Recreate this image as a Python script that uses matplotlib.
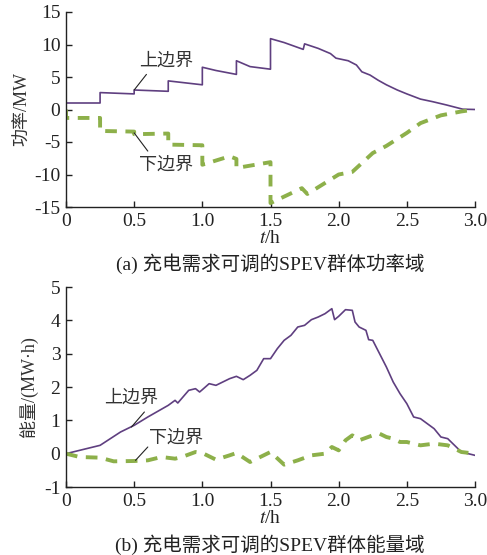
import matplotlib
matplotlib.use("Agg")
import matplotlib.pyplot as plt

plt.rcParams['font.family'] = ['Liberation Serif', 'Noto Sans CJK SC']
plt.rcParams['mathtext.fontset'] = 'stix'
plt.rcParams['axes.unicode_minus'] = False

# (a) power domain
t_pu = [0, 0, 0.25, 0.25, 0.5, 0.5, 0.75, 0.75, 1.0, 1.0, 1.1, 1.25, 1.25, 1.35, 1.5, 1.5, 1.6, 1.74, 1.75,
        1.85, 1.94, 1.98, 2.07, 2.13, 2.17, 2.23, 2.29, 2.35, 2.43, 2.5, 2.6, 2.69, 2.79, 2.91, 3.0]
p_up = [0, 1.0, 1.0, 2.6, 2.4, 3.0, 2.8, 4.4, 3.8, 6.5, 6.0, 5.4, 7.5, 6.6, 6.2, 10.9, 10.3, 9.25, 10.1,
        9.4, 8.6, 7.9, 7.5, 6.85, 5.8, 5.3, 4.5, 3.8, 3.0, 2.4, 1.6, 1.2, 0.7, 0.05, 0.0]
t_pl = [0, 0, 0.25, 0.25, 0.5, 0.5, 0.75, 0.75, 1.0, 1.0, 1.2, 1.25, 1.25, 1.5, 1.5, 1.73, 1.77,
        2.0, 2.1, 2.25, 2.35, 2.5, 2.6, 2.75, 2.9, 3.0]
p_lo = [0, -1.3, -1.3, -3.3, -3.4, -3.8, -3.7, -5.4, -5.5, -8.5, -7.2, -7.6, -9.0, -8.1, -14.4, -12.1, -13.0,
        -10.0, -9.6, -6.7, -5.6, -3.6, -2.1, -0.9, -0.3, 0.0]

# (b) energy domain
t_eu = [0, 0.25, 0.4, 0.5, 0.6, 0.75, 0.8, 0.82, 0.9, 0.95, 0.98, 1.0, 1.05, 1.1, 1.2, 1.25, 1.3, 1.35, 1.4,
        1.45, 1.5, 1.55, 1.6, 1.65, 1.7, 1.75, 1.8, 1.85, 1.9, 1.95, 1.97, 2.0, 2.05, 2.1, 2.12, 2.15, 2.2,
        2.22, 2.25, 2.3, 2.35, 2.4, 2.45, 2.5, 2.55, 2.6, 2.65, 2.7, 2.75, 2.8, 2.85, 2.9, 2.95, 3.0]
e_up = [0, 0.25, 0.65, 0.85, 1.1, 1.45, 1.6, 1.52, 1.9, 1.95, 1.85, 1.92, 2.1, 2.05, 2.25, 2.32, 2.22, 2.35, 2.5,
        2.85, 2.85, 3.15, 3.4, 3.55, 3.8, 3.85, 4.02, 4.1, 4.2, 4.35, 4.02, 4.12, 4.32, 4.3, 3.95, 3.8, 3.7,
        3.42, 3.4, 3.0, 2.6, 2.15, 1.8, 1.5, 1.1, 1.05, 0.9, 0.75, 0.5, 0.45, 0.25, 0.05, 0.0, -0.05]
t_el = [0, 0.1, 0.25, 0.35, 0.5, 0.6, 0.7, 0.8, 0.85, 0.95, 1.0, 1.1, 1.2, 1.25, 1.35, 1.45, 1.5, 1.6, 1.7,
        1.8, 1.9, 1.95, 2.0, 2.05, 2.1, 2.15, 2.25, 2.3, 2.35, 2.4, 2.45, 2.5, 2.6, 2.7, 2.8, 2.9, 3.0]
e_lo = [0, -0.1, -0.12, -0.23, -0.22, -0.2, -0.1, -0.15, -0.1, 0.05, 0.02, -0.18, -0.05, 0.02, -0.25, -0.05,
        0.05, -0.33, -0.2, -0.05, 0.0, 0.2, 0.1, 0.4, 0.55, 0.4, 0.55, 0.6, 0.5, 0.45, 0.35, 0.35, 0.25, 0.3,
        0.25, 0.05, 0.0]

xticks = [0, 0.5, 1.0, 1.5, 2.0, 2.5, 3.0]
xtick_labels = ['0', '0.5', '1.0', '1.5', '2.0', '2.5', '3.0']

PURPLE = '#5f3f80'
GREEN = '#8db04a'
FS = 14
TXT = '#333333'

fig = plt.figure(figsize=(4.87, 5.55), dpi=100)
W, H = 487, 555
ax1 = fig.add_axes([66 / W, 1 - 207 / H, 409 / W, 195 / H])
ax2 = fig.add_axes([66 / W, 1 - 487 / H, 409 / W, 200 / H])

def style(ax):
    for s in ['top', 'right']:
        ax.spines[s].set_visible(False)
    for s in ['left', 'bottom']:
        ax.spines[s].set_color('#222222')
        ax.spines[s].set_linewidth(1.0)
    ax.tick_params(direction='in', length=4, width=1.0, labelsize=FS, colors='#222222', pad=4)
    ax.set_xlim(0, 3.0)
    ax.set_xticks(xticks)
    ax.set_xticklabels(xtick_labels)
    ax.set_xlabel(r'$t$/h', fontsize=FS, labelpad=0, color='#222222')

def leader(ax, p_from, p_to, label, p_text):
    ax.annotate('', xy=p_to, xytext=p_from,
                arrowprops=dict(arrowstyle='-', color='#222222', lw=0.8, shrinkA=0, shrinkB=0))
    ax.text(p_text[0], p_text[1], label, fontsize=FS - 1, ha='center', va='center', color=TXT)

style(ax1)
ax1.plot(t_pu, p_up, color=PURPLE, lw=1.2)
ax1.plot(t_pl, p_lo, color=GREEN, lw=2.8, dashes=(3.0, 2.2))
ax1.set_ylim(-15, 15)
ax1.set_yticks([-15, -10, -5, 0, 5, 10, 15])
ax1.set_ylabel('功率/MW', fontsize=FS - 1, labelpad=2, color=TXT)
leader(ax1, (0.59, 5.4), (0.5, 3.0), '上边界', (0.735, 7.4))
leader(ax1, (0.6, -6.4), (0.5, -3.6), '下边界', (0.735, -8.5))
fig.text(270 / W, 1 - 264 / H, '(a) 充电需求可调的SPEV群体功率域', fontsize=FS, ha='center', va='center', color='#222222')

style(ax2)
ax2.plot(t_eu, e_up, color=PURPLE, lw=1.2)
ax2.plot(t_el, e_lo, color=GREEN, lw=2.8, dashes=(3.0, 2.2))
ax2.set_ylim(-1, 5)
ax2.set_yticks([-1, 0, 1, 2, 3, 4, 5])
ax2.set_ylabel('能量/(MW·h)', fontsize=FS - 1, labelpad=4, color=TXT)
leader(ax2, (0.575, 1.25), (0.48, 0.8), '上边界', (0.48, 1.65))
leader(ax2, (0.6, 0.2), (0.51, -0.2), '下边界', (0.81, 0.45))
fig.text(270 / W, 1 - 545 / H, '(b) 充电需求可调的SPEV群体能量域', fontsize=FS, ha='center', va='center', color='#222222')

fig.savefig('out.png', dpi=100)
